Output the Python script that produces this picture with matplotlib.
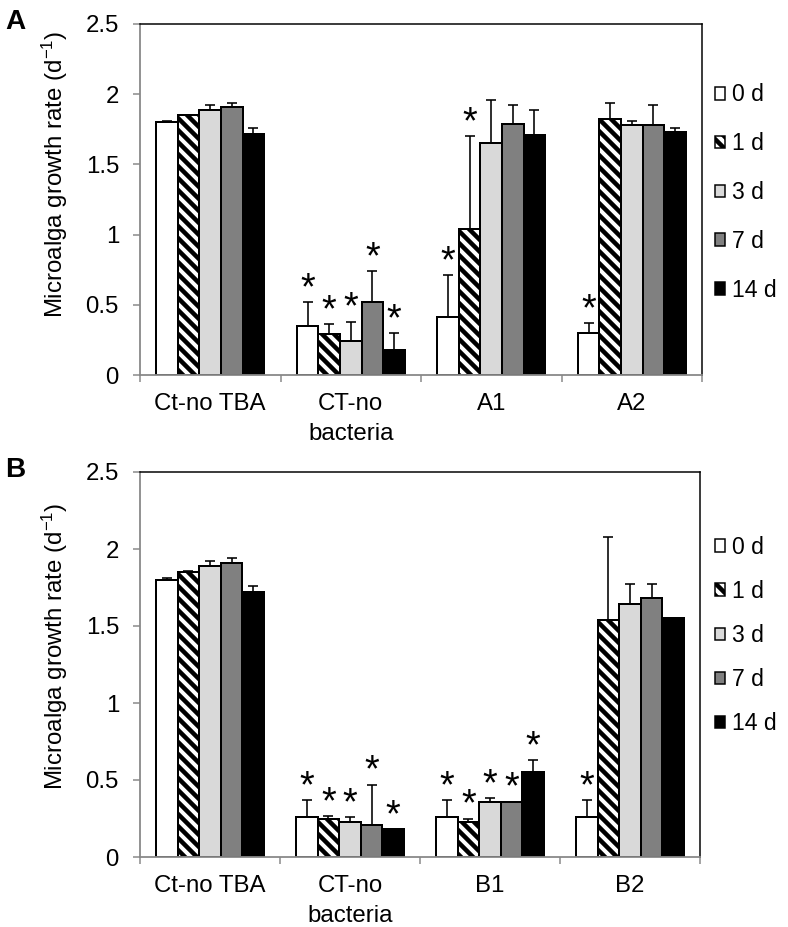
import numpy as np
import matplotlib.pyplot as plt
from matplotlib.patches import Patch

# data
days = ["0 d", "1 d", "3 d", "7 d", "14 d"]
groups_a = ["Ct-no TBA", "CT-no\nbacteria", "A1", "A2"]
groups_b = ["Ct-no TBA", "CT-no\nbacteria", "B1", "B2"]

mean_a = [
    [1.80, 0.35, 0.41, 0.30],
    [1.85, 0.29, 1.04, 1.82],
    [1.89, 0.24, 1.65, 1.78],
    [1.91, 0.52, 1.79, 1.78],
    [1.72, 0.18, 1.71, 1.73],
]
err_a = [
    [0.01, 0.17, 0.30, 0.07],
    [0.005, 0.07, 0.66, 0.12],
    [0.03, 0.14, 0.31, 0.03],
    [0.03, 0.22, 0.13, 0.14],
    [0.04, 0.12, 0.18, 0.03],
]
sig_a = [
    [0, 1, 1, 1],
    [0, 1, 1, 0],
    [0, 1, 0, 0],
    [0, 1, 0, 0],
    [0, 1, 0, 0],
]

mean_b = [
    [1.80, 0.26, 0.26, 0.26],
    [1.85, 0.25, 0.23, 1.54],
    [1.89, 0.23, 0.36, 1.645],
    [1.91, 0.21, 0.36, 1.68],
    [1.72, 0.18, 0.55, 1.555],
]
err_b = [
    [0.01, 0.11, 0.11, 0.11],
    [0.005, 0.015, 0.02, 0.54],
    [0.03, 0.03, 0.02, 0.13],
    [0.03, 0.26, 0.0, 0.09],
    [0.04, 0.0, 0.08, 0.0],
]
sig_b = [
    [0, 1, 1, 1],
    [0, 1, 1, 0],
    [0, 1, 1, 0],
    [0, 1, 1, 0],
    [0, 1, 1, 0],
]

colors = ["white", "white", "#d9d9d9", "#808080", "black"]
hatches = [None, "\\\\", None, None, None]

plt.rcParams["font.family"] = ["Liberation Sans", "DejaVu Sans"]
plt.rcParams["mathtext.default"] = "regular"
plt.rcParams["hatch.linewidth"] = 4.5
plt.rcParams["hatch.color"] = "black"

# dpi 72 so that points == pixels
W, H = 788, 927
fig = plt.figure(figsize=(W / 72, H / 72), dpi=72)

fs = 24
width = 1 / 6.5


def panel(rect, groups, means, errs, sigs, letter, ylab_y, leg_y, leg_sp):
    ax = fig.add_axes(rect)
    x = np.arange(len(groups))
    for i in range(len(days)):
        xs = x + (i - 2) * width
        ax.bar(xs, means[i], width, color=colors[i], hatch=hatches[i],
               edgecolor="black", linewidth=2, zorder=2)
        ax.errorbar(xs, means[i], yerr=[np.zeros(len(groups)), errs[i]],
                    fmt="none", ecolor="black", elinewidth=1.6, capsize=5,
                    capthick=1.6, zorder=3)
        for j in range(len(groups)):
            if sigs[i][j]:
                ax.annotate("*", (xs[j], means[i][j] + errs[i][j]),
                            xytext=(0, 17), textcoords="offset points",
                            ha="center", va="center_baseline", fontsize=38)
    ax.set_xlim(-0.5, len(groups) - 0.5)
    ax.set_ylim(0, 2.5)
    ax.set_yticks([0, 0.5, 1, 1.5, 2, 2.5])
    ax.set_yticklabels(["0", "0.5", "1", "1.5", "2", "2.5"])
    ax.set_xticks(x)
    ax.set_xticklabels(groups)
    for t in ax.get_xticklabels():
        t.set_linespacing(1.5)
    ax.set_xticks(np.arange(len(groups) + 1) - 0.5, minor=True)
    ax.tick_params(axis="x", which="major", length=0, pad=18, labelsize=fs)
    ax.tick_params(axis="x", which="minor", length=7, width=1.5,
                   color="#888888", direction="out")
    ax.tick_params(axis="y", length=7, width=1.5, color="#888888",
                   pad=14, labelsize=fs)
    for s in ["left", "bottom"]:
        ax.spines[s].set_color("#888888")
        ax.spines[s].set_linewidth(1.8)
    for s in ["top", "right"]:
        ax.spines[s].set_color("black")
        ax.spines[s].set_linewidth(1.5)
    fig.text(55 / W, ylab_y, "Microalga growth rate (d$^{-1}$)", fontsize=fs,
             rotation=90, ha="center", va="center")

    handles = [Patch(facecolor=colors[i], edgecolor="black", linewidth=1.5,
                     hatch=hatches[i]) for i in range(len(days))]
    fig.legend(handles, days, loc="center left", bbox_to_anchor=(703 / W, leg_y),
               frameon=False, fontsize=23, handlelength=0.46, borderpad=0,
               handleheight=0.46, handletextpad=0.3, labelspacing=leg_sp)
    fig.text(5 / W, rect[1] + rect[3] + 0.002, letter, fontsize=28,
             fontweight="bold", va="center")
    return ax


panel([140 / W, 1 - 375 / H, 562 / W, 351 / H], groups_a, mean_a, err_a,
      sig_a, "A", 1 - 174 / H, 1 - 192.5 / H, 1.12)
panel([140 / W, 1 - 857 / H, 560 / W, 385 / H], groups_b, mean_b, err_b,
      sig_b, "B", 1 - 646 / H, 1 - 635.5 / H, 0.92)

fig.savefig("out.png", dpi=72)
